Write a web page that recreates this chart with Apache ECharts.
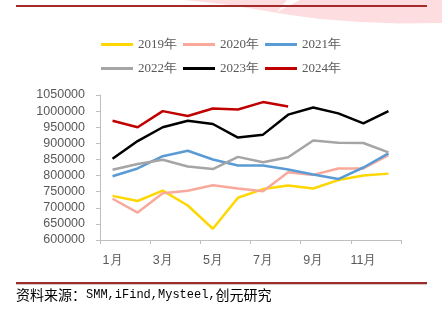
<!DOCTYPE html>
<html>
<head>
<meta charset="utf-8">
<script src="https://cdn.jsdelivr.net/npm/echarts@6/dist/echarts.min.js"></script>
<style>
  html, body { margin: 0; padding: 0; background: #fff; }
  #chart { width: 442px; height: 321px; }
</style>
</head>
<body>
<div id="chart"></div>
<script>
// Monthly series, 2019–2024
const months = ['1月','2月','3月','4月','5月','6月','7月','8月','9月','10月','11月','12月'];
const seriesNames = ['2019年','2020年','2021年','2022年','2023年','2024年'];
const y2019 = [737000, 721000, 753000, 707000, 635000, 731000, 758000, 769000, 760000, 786000, 800000, 806000];
const y2020 = [728000, 685000, 745000, 753000, 770000, 760000, 751000, 810000, 802000, 822000, 822000, 863000];
const y2021 = [798000, 822000, 860000, 877000, 850000, 831000, 831000, 819000, 803000, 789000, 825000, 869000];
const y2022 = [818000, 836000, 849000, 828000, 820000, 858000, 841000, 857000, 909000, 902000, 901000, 872000];
const y2023 = [852000, 907000, 950000, 970000, 960000, 918000, 927000, 989000, 1011000, 993000, 962000, 1000000];
const y2024 = [970000, 950000, 1000000, 985000, 1008000, 1005000, 1028000, 1014000];
const colors = ['#FFD700', '#F9A99B', '#5B9BD5', '#A5A5A5', '#000000', '#C00000'];
const yMin = 600000, yMax = 1050000, yStep = 50000;

const chart = echarts.init(document.getElementById('chart'), null, { renderer: 'canvas' });

const allData = [y2019, y2020, y2021, y2022, y2023, y2024];
const series = allData.map((d, i) => ({
  name: seriesNames[i],
  type: 'line',
  data: d,
  symbol: 'none',
  smooth: false,
  lineStyle: { width: 2.5, color: colors[i] },
  itemStyle: { color: colors[i] },
  z: 2 + i
}));

const legendCommon = {
  left: 'center',
  icon: 'rect',
  itemWidth: 32,
  itemHeight: 3,
  itemGap: 6,
  textStyle: { fontFamily: 'Liberation Serif', fontSize: 13, color: '#595959' }
};

chart.setOption({
  animation: false,
  backgroundColor: '#fff',
  color: colors,
  grid: { left: 100, right: 41, top: 95, bottom: 81 },
  legend: [
    Object.assign({ top: 33, data: seriesNames.slice(0, 3) }, legendCommon),
    Object.assign({ top: 57, data: seriesNames.slice(3) }, legendCommon)
  ],
  xAxis: {
    type: 'category',
    data: months,
    boundaryGap: true,
    axisLine: { lineStyle: { color: '#BFBFBF', width: 1 } },
    axisTick: { show: true, length: 4, lineStyle: { color: '#BFBFBF' } },
    axisLabel: {
      interval: 1,
      color: '#595959',
      fontFamily: 'Liberation Sans',
      fontSize: 12.5,
      margin: 14
    },
    splitLine: { show: false }
  },
  yAxis: {
    type: 'value',
    min: yMin,
    max: yMax,
    interval: yStep,
    axisLine: { show: true, lineStyle: { color: '#BFBFBF', width: 1 } },
    axisTick: { show: true, length: 4, lineStyle: { color: '#BFBFBF' } },
    axisLabel: {
      color: '#595959',
      fontFamily: 'Liberation Sans',
      fontSize: 12.5,
      margin: 15,
      formatter: v => String(v)
    },
    splitLine: { show: false }
  },
  series: series,
  graphic: [
    // faint brand swoosh along the top edge
    {
      type: 'polygon',
      z: -10,
      shape: {
        points: [[183,0],[287,0],[277,12],[300,0],[442,0],[442,23],[400,23.5],[360,22],[320,19],[290,15],[260,10],[230,5],[205,2]]
      },
      style: { fill: '#FDDDE0' }
    },
    // header rule
    {
      type: 'rect',
      shape: { x: 16, y: 5, width: 411, height: 2 },
      style: { fill: '#A52B2B' }
    },
    // footer rule
    {
      type: 'rect',
      shape: { x: 16, y: 282, width: 411, height: 2 },
      style: { fill: '#9B2D2D' }
    },
    {
      type: 'rect',
      shape: { x: 16, y: 284, width: 411, height: 1 },
      style: { fill: '#D9C3C3' }
    },
    // source note
    {
      type: 'text',
      left: 16,
      top: 288,
      style: {
        text: '{c|资料来源：}{l|SMM,iFind,Mysteel,}{c|创元研究}',
        rich: {
          c: { fontFamily: 'Noto Sans CJK SC', fontSize: 14, fill: '#000', lineHeight: 16 },
          l: { fontFamily: 'Liberation Mono', fontSize: 12, fill: '#000', lineHeight: 16 }
        }
      }
    }
  ]
});
</script>
</body>
</html>
